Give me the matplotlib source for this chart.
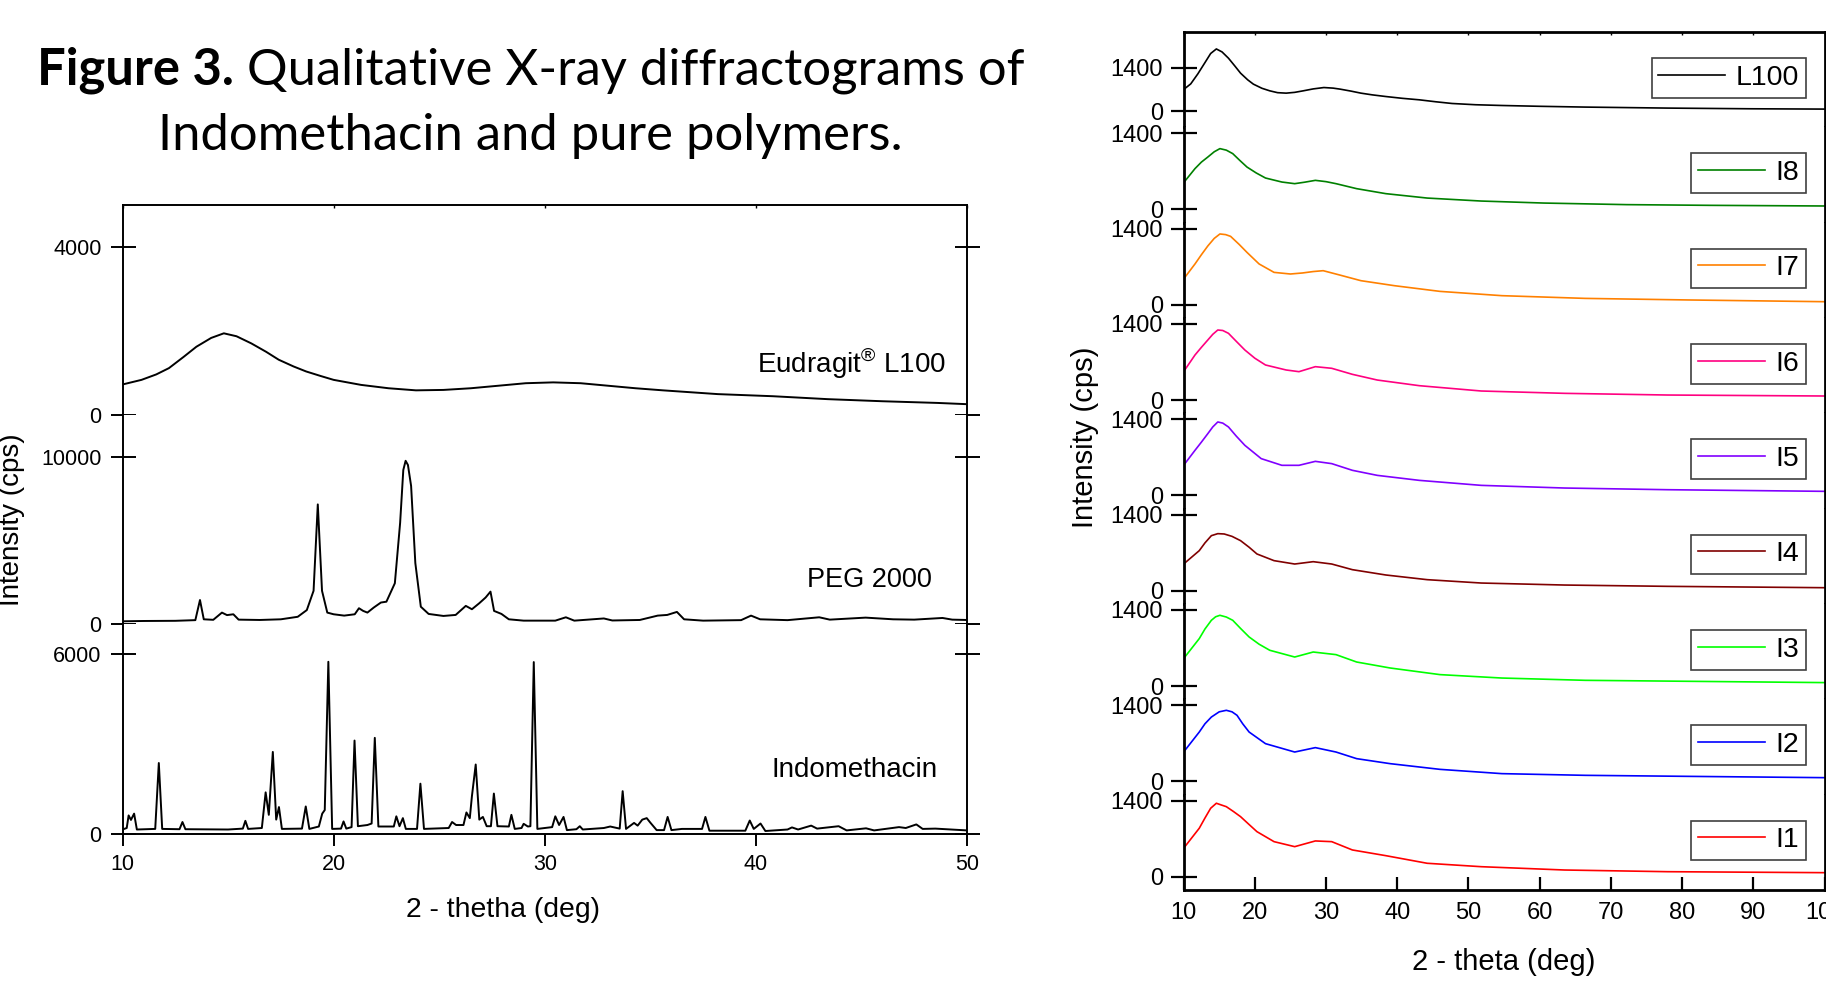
import matplotlib
matplotlib.use('Agg')
import matplotlib.pyplot as plt

plt.rcParams['font.family'] = ['Liberation Sans', 'DejaVu Sans']
plt.rcParams['mathtext.fontset'] = 'custom'
plt.rcParams['mathtext.rm'] = 'Liberation Sans'

W, H = 1826, 981

# ---- left panel data ----
eud_deg = [10.0, 10.9, 11.6, 12.2, 12.9, 13.5, 14.2, 14.8, 15.4, 16.1, 16.8, 17.4, 18.1, 18.7,
           19.4, 20.0, 21.3, 22.6, 23.9, 25.2, 26.5, 27.8, 29.1, 30.4, 31.7, 33.0, 34.3,
           35.6, 38.2, 40.8, 43.4, 46.0, 48.6, 50.0]
eud_cps = [720, 830, 960, 1110, 1380, 1620, 1830, 1940, 1870, 1700, 1500, 1310, 1150, 1030,
           920, 830, 710, 630, 580, 590, 630, 690, 750, 770, 750, 690, 630,
           580, 490, 440, 370, 320, 280, 250]

peg_deg = [10.0, 11.0, 12.5, 13.45, 13.67, 13.85, 14.3, 14.71, 14.95, 15.25, 15.5, 16.5, 17.5,
           18.3, 18.73, 19.05, 19.25, 19.45, 19.7, 20.0, 20.5, 21.0, 21.2, 21.4, 21.6, 21.9,
           22.24, 22.5, 22.9, 23.15, 23.3, 23.41, 23.52, 23.67, 23.87, 24.13, 24.5, 25.2,
           25.78, 26.26, 26.55, 26.9, 27.2, 27.43, 27.6, 27.95, 28.3, 29.0, 30.5, 31.0, 31.4,
           32.8, 33.2, 34.5, 35.35, 35.8, 36.26, 36.6, 37.5, 39.3, 39.77, 40.2, 41.5, 43.0,
           43.5, 45.2, 46.5, 47.5, 48.84, 49.3, 50.0]
peg_cps = [180, 200, 210, 250, 1450, 300, 270, 700, 550, 600, 280, 260, 300,
           450, 850, 2000, 7150, 2000, 700, 600, 520, 600, 960, 800, 700, 1000,
           1300, 1350, 2450, 6050, 9200, 9750, 9500, 8250, 3650, 1050, 620, 500,
           560, 1100, 900, 1260, 1600, 1950, 800, 620, 300, 220, 220, 420, 220,
           350, 230, 260, 520, 560, 740, 300, 220, 250, 520, 300, 250, 420,
           280, 400, 300, 280, 380, 280, 260]

ind_deg = [10.0, 10.2, 10.29, 10.4, 10.55, 10.68, 11.55, 11.72, 11.88, 12.7, 12.84, 12.98,
           15.0, 15.7, 15.82, 15.95, 16.6, 16.78, 16.93, 17.12, 17.28, 17.41, 17.55, 18.5,
           18.68, 18.85, 19.3, 19.46, 19.58, 19.75, 19.93, 20.35, 20.47, 20.6, 20.85, 20.99,
           21.15, 21.6, 21.8, 21.95, 22.12, 22.85, 22.97, 23.12, 23.28, 23.42, 23.95, 24.11,
           24.28, 25.45, 25.61, 25.8, 26.15, 26.29, 26.45, 26.55, 26.73, 26.9, 27.07, 27.25,
           27.45, 27.59, 27.76, 28.3, 28.42, 28.58, 28.9, 29.0, 29.2, 29.32, 29.48, 29.65,
           30.35, 30.5, 30.68, 30.89, 31.05, 31.5, 31.66, 31.8, 32.8, 33.1, 33.55, 33.69,
           33.85, 34.23, 34.4, 34.62, 34.83, 35.0, 35.3, 35.65, 35.82, 36.0, 36.5, 37.45,
           37.61, 37.8, 39.5, 39.71, 39.9, 40.22, 40.45, 41.5, 41.71, 42.0, 42.62, 42.9,
           43.92, 44.3, 45.22, 45.6, 46.78, 47.1, 47.6, 47.9, 48.5, 50.0]
ind_cps = [150, 200, 620, 470, 680, 150, 170, 2370, 170, 160, 400, 160,
           150, 180, 440, 170, 200, 1390, 640, 2740, 480, 900, 170, 180,
           920, 170, 250, 680, 800, 5750, 170, 180, 420, 180, 230, 3120,
           260, 300, 350, 3210, 250, 250, 590, 260, 530, 170, 170, 1680,
           170, 200, 400, 300, 300, 720, 530, 1260, 2320, 480, 570, 260,
           260, 1350, 260, 250, 640, 170, 200, 340, 250, 260, 5740, 170,
           230, 590, 300, 570, 130, 160, 260, 150, 200, 250, 180, 1430,
           170, 370, 280, 480, 530, 380, 130, 130, 570, 130, 170, 170,
           570, 110, 110, 450, 170, 350, 100, 150, 220, 150, 280, 180,
           260, 120, 190, 120, 230, 200, 320, 170, 180, 120]

# ---- right panel data ----
l100_deg = [10.0, 11.0, 12.0, 13.0, 13.8, 14.6, 15.4, 16.3, 17.2, 18.0, 19.0, 19.8, 21.0,
            22.1, 23.2, 24.4, 25.6, 26.8, 28.2, 29.7, 31.0, 32.0, 33.5, 34.9, 36.5, 38.4,
            40.7, 43.1, 45.4, 47.7, 51.0, 54.7, 60.0, 66.4, 78.0, 89.7, 100]
l100_cps = [700, 880, 1200, 1560, 1850, 1995, 1900, 1700, 1450, 1222, 1010, 872, 740,
            659, 600, 585, 610, 659, 720, 764, 745, 712, 650, 585, 530, 477,
            420, 372, 310, 255, 215, 191, 165, 140, 108, 86, 76]
i8_deg = [10.0, 11.6, 12.5, 13.4, 14.3, 15.1, 16.0, 16.9, 17.9, 18.9, 20.2, 21.5, 23.8,
          25.6, 27.0, 28.5, 30.0, 31.4, 34.3, 38.4, 44.2, 51.8, 60.6, 72.2, 83.9, 100]
i8_cps = [490, 750, 870, 963, 1060, 1118, 1090, 1026, 900, 779, 670, 577, 503,
          473, 500, 534, 510, 473, 381, 289, 208, 153, 116, 87, 74, 62]
i7_deg = [10.0, 11.6, 12.5, 13.4, 14.3, 15.1, 15.9, 16.6, 17.8, 18.9, 20.6, 22.7, 25.0,
          26.7, 28.2, 29.6, 31.9, 34.9, 39.6, 46.0, 54.7, 66.4, 80.9, 100]
i7_cps = [473, 750, 920, 1081, 1220, 1302, 1290, 1258, 1110, 963, 750, 595, 565,
          584, 610, 626, 547, 442, 350, 245, 166, 116, 87, 55]
i6_deg = [10.0, 11.6, 12.5, 13.4, 14.1, 14.8, 15.5, 16.3, 17.4, 18.6, 20.0, 21.5, 24.4,
          26.2, 28.5, 30.8, 33.7, 37.2, 43.1, 51.8, 63.5, 78.0, 100]
i6_cps = [522, 829, 970, 1105, 1210, 1289, 1280, 1228, 1080, 921, 770, 645, 553,
          522, 614, 584, 473, 368, 264, 166, 123, 92, 74]
i5_deg = [10.0, 11.6, 12.5, 13.4, 14.1, 14.8, 15.5, 16.3, 17.4, 18.6, 20.9, 23.8, 26.2,
          28.5, 30.8, 33.7, 37.2, 43.1, 51.8, 63.5, 78.0, 100]
i5_cps = [553, 829, 980, 1136, 1260, 1351, 1330, 1259, 1090, 921, 676, 553, 553,
          626, 584, 461, 368, 276, 184, 135, 104, 74]
i4_deg = [10.0, 12.2, 13.0, 13.9, 14.8, 15.7, 16.8, 18.0, 19.2, 20.3, 22.7, 25.6, 28.2,
          30.8, 33.7, 38.4, 44.2, 51.8, 63.5, 78.0, 100]
i4_cps = [491, 737, 880, 1013, 1050, 1044, 1000, 921, 800, 676, 553, 491, 534,
          491, 387, 289, 203, 141, 104, 80, 55]
i3_deg = [10.0, 12.2, 13.0, 13.9, 14.5, 15.1, 16.0, 16.9, 18.0, 19.2, 20.6, 22.1, 25.6,
          28.2, 31.4, 34.3, 39.0, 46.0, 54.7, 66.4, 80.9, 100]
i3_cps = [505, 873, 1050, 1210, 1275, 1302, 1270, 1210, 1060, 903, 770, 658, 534,
          626, 578, 442, 332, 210, 147, 105, 87, 63]
i2_deg = [10.0, 12.2, 13.0, 13.9, 15.0, 16.0, 16.8, 17.5, 18.3, 19.2, 21.5, 25.6, 28.5,
          31.4, 34.3, 39.0, 46.0, 54.7, 66.4, 80.9, 100]
i2_cps = [540, 908, 1060, 1184, 1280, 1308, 1280, 1216, 1060, 908, 694, 540, 621,
          540, 418, 326, 221, 142, 111, 92, 68]
i1_deg = [10.0, 12.2, 13.0, 13.8, 14.6, 15.3, 16.0, 17.0, 18.0, 19.2, 20.3, 22.7, 25.6,
          28.5, 30.8, 33.7, 38.4, 44.2, 51.8, 63.5, 78.0, 100]
i1_cps = [523, 892, 1080, 1260, 1352, 1320, 1289, 1200, 1105, 960, 829, 645, 553,
          658, 645, 492, 387, 247, 184, 123, 92, 74]

right_names = ['L100', 'I8', 'I7', 'I6', 'I5', 'I4', 'I3', 'I2', 'I1']
right_colors = ['black', '#008000', '#FF8000', '#FF0080', '#8000FF', '#800000',
                '#00FF00', '#0000FF', '#FF0000']
right_data = [(l100_deg, l100_cps), (i8_deg, i8_cps), (i7_deg, i7_cps), (i6_deg, i6_cps),
              (i5_deg, i5_cps), (i4_deg, i4_cps), (i3_deg, i3_cps), (i2_deg, i2_cps),
              (i1_deg, i1_cps)]

fig = plt.figure(figsize=(W / 100, H / 100), dpi=100)


def px_axes(x0, y0, x1, y1):
    # pixel box (top-left origin) -> figure axes
    return fig.add_axes([x0 / W, 1 - y1 / H, (x1 - x0) / W, (y1 - y0) / H])


# ---------------- left panel ----------------
left_sets = [(eud_deg, eud_cps, 5000, 4000),
             (peg_deg, peg_cps, 12500, 10000),
             (ind_deg, ind_cps, 7000, 6000)]
L0, L1, T0, B0 = 122.5, 967, 205, 834
seg_h = (B0 - T0) / 3
for i, (xd, yd, ymax, ytop) in enumerate(left_sets):
    ax = px_axes(L0, T0 + i * seg_h, L1, T0 + (i + 1) * seg_h)
    ax.plot(xd, yd, color='black', lw=1.4)
    ax.set_xlim(10, 50)
    ax.set_ylim(0, ymax)
    ax.set_yticks([0, ytop])
    ax.tick_params(axis='y', direction='inout', length=18, width=1.4, left=True, right=True,
                   labelsize=15.5, pad=6)
    for s in ax.spines.values():
        s.set_linewidth(1.4)
    if i > 0:
        ax.spines['top'].set_visible(False)
    if i < 2:
        ax.spines['bottom'].set_visible(False)
    if i == 2:
        ax.set_xticks([10, 20, 30, 40, 50])
        ax.tick_params(axis='x', direction='out', length=8.6, width=1.4, labelsize=15.5, pad=5.5)
    elif i == 0:
        ax.set_xticks([10, 20, 30, 40, 50])
        ax.tick_params(axis='x', top=True, bottom=False, labelbottom=False, direction='in',
                       length=2, width=1)
    else:
        ax.tick_params(axis='x', bottom=False, labelbottom=False)

fig.text(946 / W, 1 - 373 / H, r'Eudragit$^{\mathrm{®}}$ L100', ha='right', va='baseline', fontsize=20)
fig.text(932 / W, 1 - 587 / H, 'PEG 2000', ha='right', va='baseline', fontsize=19.5)
fig.text(938 / W, 1 - 777 / H, 'Indomethacin', ha='right', va='baseline', fontsize=20)
fig.text(12 / W, 1 - 519.5 / H, 'Intensity (cps)', rotation=90, ha='center', va='center', fontsize=20)
fig.text(503 / W, 1 - 910 / H, '2 - thetha (deg)', ha='center', va='center', fontsize=20.4)

# ---------------- right panel ----------------
R0, R1, RT, RB = 1183.6, 1824.5, 32, 890
rseg = (RB - RT) / 9
for i, name in enumerate(right_names):
    xd, yd = right_data[i]
    ax = px_axes(R0, RT + i * rseg, R1, RT + (i + 1) * rseg)
    ln, = ax.plot(xd, yd, color=right_colors[i], lw=1.2)
    ax.set_xlim(10, 100)
    if i == 0:
        ax.set_ylim(-506, 2536)
    else:
        ax.set_ylim(-245, 1510)
    ax.set_yticks([0, 1400])
    ax.tick_params(axis='y', direction='inout', length=19, width=1.6, left=True, right=False,
                   labelsize=17, pad=5.3)
    for s in ax.spines.values():
        s.set_linewidth(2)
    if i > 0:
        ax.spines['top'].set_visible(False)
    if i < 8:
        ax.spines['bottom'].set_visible(False)
    ax.set_xticks(range(10, 101, 10))
    if i == 8:
        ax.tick_params(axis='x', direction='in', length=9.6, width=1.6, labelsize=17, pad=8.5)
    elif i == 0:
        ax.tick_params(axis='x', top=True, bottom=False, labelbottom=False, direction='in',
                       length=2, width=1)
    else:
        ax.tick_params(axis='x', bottom=False, labelbottom=False)
    axw = R1 - R0
    leg = ax.legend([ln], [name], loc='center right', bbox_to_anchor=(1 - 19 / axw, 0.52),
                    fontsize=20.5, frameon=True, fancybox=False, edgecolor='#404040',
                    framealpha=1, handlelength=2.35, handletextpad=0.35, borderpad=0.24,
                    borderaxespad=0)
    leg.get_frame().set_linewidth(1.2)

fig.text(1085 / W, 1 - 437 / H, 'Intensity (cps)', rotation=90, ha='center', va='center', fontsize=21)
fig.text(1504 / W, 1 - 961.7 / H, '2 - theta (deg)', ha='center', va='center', fontsize=21)

# ---------------- title ----------------
r = fig.canvas.get_renderer()
fs = 36
tb = fig.text(0, 0, 'Figure 3.', fontsize=fs, fontweight='bold', family='Lato', va='baseline')
tr = fig.text(0, 0, 'Qualitative X-ray diffractograms of', fontsize=fs, family='Lato', va='baseline')
w_all = tb.get_window_extent(r).width + tr.get_window_extent(r).width + 0.25 * fs * 100 / 72
fs = fs * 987 / w_all
tb.set_fontsize(fs)
tr.set_fontsize(fs)
wb = tb.get_window_extent(r).width
wr = tr.get_window_extent(r).width
gap = 0.25 * fs * 100 / 72
x_start = 530.6 - (wb + gap + wr) / 2
tb.set_position((x_start / W, 1 - 85 / H))
tr.set_position(((x_start + wb + gap) / W, 1 - 85 / H))
fig.text(530.5 / W, 1 - 150 / H, 'Indomethacin and pure polymers.', fontsize=fs, family='Lato',
         ha='center', va='baseline')

fig.savefig('out.png', dpi=100)
